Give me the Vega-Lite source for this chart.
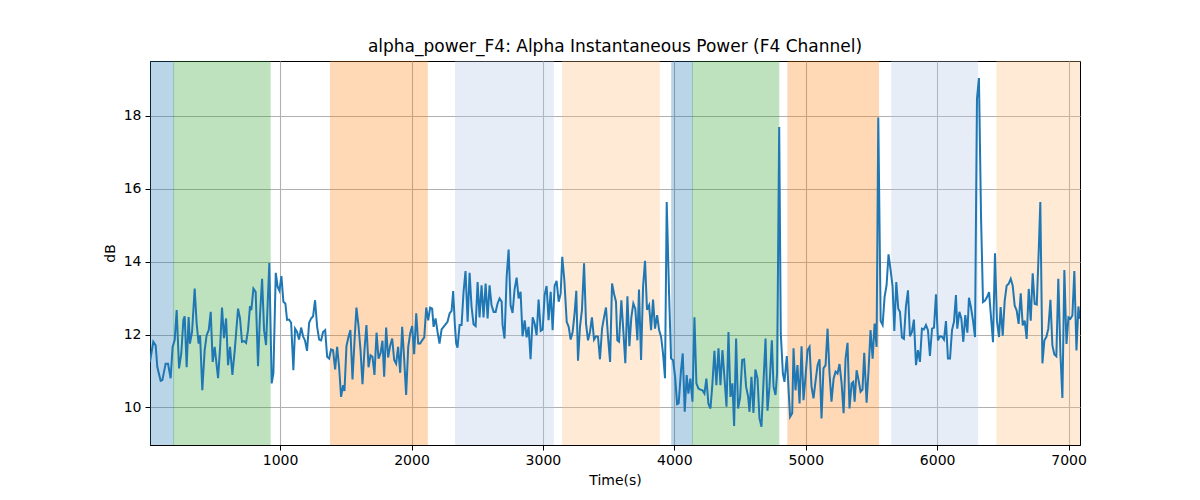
{
  "$schema": "https://vega.github.io/schema/vega-lite/v6.json",
  "width": 930,
  "height": 384,
  "autosize": {"type": "none"},
  "padding": {"left": 150, "top": 61, "right": 120, "bottom": 55},
  "background": "white",
  "title": {"text": "alpha_power_F4: Alpha Instantaneous Power (F4 Channel)", "fontSize": 17, "fontWeight": "normal", "font": "DejaVu Sans", "color": "black", "offset": 5},
  "config": {
    "font": "DejaVu Sans",
    "view": {"stroke": "black", "strokeWidth": 1},
    "axis": {
      "labelFontSize": 14, "labelColor": "black", "labelFont": "DejaVu Sans",
      "titleFontSize": 14, "titleFontWeight": "normal", "titleColor": "black", "titleFont": "DejaVu Sans",
      "tickColor": "black", "tickSize": 5, "domainColor": "black",
      "grid": true, "gridColor": "#b0b0b0", "gridWidth": 1.1
    }
  },
  "datasets": {
    "bands": [
      {"start": 0, "end": 190, "phase": "s1"},
      {"start": 190, "end": 924, "phase": "s2"},
      {"start": 1383, "end": 2120, "phase": "s3"},
      {"start": 2335, "end": 3079, "phase": "s4"},
      {"start": 3150, "end": 3886, "phase": "s5"},
      {"start": 3980, "end": 4138, "phase": "s1"},
      {"start": 4138, "end": 4795, "phase": "s2"},
      {"start": 4864, "end": 5554, "phase": "s3"},
      {"start": 5655, "end": 6308, "phase": "s4"},
      {"start": 6455, "end": 7120, "phase": "s5"}
    ],
    "series": [
      {"t":10,"db":11.25},{"t":35,"db":11.8},{"t":53,"db":11.7},{"t":66,"db":11.1},{"t":91,"db":10.73},{"t":104,"db":10.75},{"t":129,"db":11.2},{"t":147,"db":11.2},{"t":167,"db":10.8},{"t":182,"db":11.66},
      {"t":198,"db":11.85},{"t":213,"db":12.67},{"t":231,"db":11.07},{"t":248,"db":11.48},{"t":264,"db":12.4},{"t":274,"db":12.5},{"t":289,"db":11.1},{"t":304,"db":12.48},{"t":314,"db":11.75},{"t":330,"db":12.07},
      {"t":350,"db":13.26},{"t":365,"db":12.3},{"t":380,"db":11.75},{"t":391,"db":11.98},{"t":408,"db":10.47},{"t":426,"db":11.57},{"t":441,"db":11.98},{"t":457,"db":12.12},{"t":472,"db":12.62},{"t":487,"db":11.25},
      {"t":502,"db":11.66},{"t":528,"db":10.8},{"t":543,"db":11.62},{"t":558,"db":12.74},{"t":573,"db":11.9},{"t":589,"db":12.44},{"t":604,"db":11.16},{"t":619,"db":11.66},{"t":637,"db":10.89},{"t":655,"db":11.57},
      {"t":680,"db":12.71},{"t":695,"db":12.44},{"t":710,"db":11.8},{"t":726,"db":11.82},{"t":741,"db":11.77},{"t":756,"db":12.12},{"t":771,"db":12.78},{"t":781,"db":12.67},{"t":797,"db":13.26},{"t":814,"db":13.17},
      {"t":832,"db":11.13},{"t":847,"db":12.53},{"t":863,"db":13.53},{"t":878,"db":12.12},{"t":893,"db":11.71},{"t":918,"db":13.96},{"t":936,"db":10.66},{"t":949,"db":10.93},{"t":967,"db":13.69},{"t":982,"db":13.3},
      {"t":995,"db":13.2},{"t":1010,"db":13.6},{"t":1025,"db":12.9},{"t":1040,"db":12.85},{"t":1053,"db":12.4},{"t":1068,"db":12.41},{"t":1084,"db":12.32},{"t":1101,"db":11.02},{"t":1114,"db":12.16},{"t":1129,"db":12.07},
      {"t":1144,"db":11.86},{"t":1160,"db":12.19},{"t":1175,"db":11.95},{"t":1190,"db":11.83},{"t":1205,"db":11.55},{"t":1221,"db":12.32},{"t":1236,"db":12.44},{"t":1251,"db":12.5},{"t":1266,"db":12.94},{"t":1282,"db":12.21},
      {"t":1297,"db":11.86},{"t":1312,"db":11.84},{"t":1327,"db":12.07},{"t":1343,"db":12.12},{"t":1358,"db":11.39},{"t":1373,"db":11.34},{"t":1388,"db":11.59},{"t":1403,"db":11.57},{"t":1419,"db":11.04},{"t":1434,"db":11.66},
      {"t":1449,"db":11.11},{"t":1464,"db":10.29},{"t":1480,"db":10.61},{"t":1490,"db":10.45},{"t":1505,"db":11.68},{"t":1520,"db":11.93},{"t":1535,"db":12.12},{"t":1551,"db":10.77},{"t":1566,"db":11.8},{"t":1581,"db":12.74},
      {"t":1596,"db":12.26},{"t":1612,"db":11.57},{"t":1627,"db":10.64},{"t":1642,"db":11.57},{"t":1657,"db":12.26},{"t":1673,"db":11.1},{"t":1688,"db":11.43},{"t":1703,"db":11.39},{"t":1718,"db":10.89},{"t":1734,"db":12.05},
      {"t":1749,"db":11.34},{"t":1764,"db":11.48},{"t":1779,"db":11.83},{"t":1792,"db":10.84},{"t":1807,"db":12.19},{"t":1822,"db":11.37},{"t":1838,"db":11.7},{"t":1853,"db":11.89},{"t":1868,"db":11.3},{"t":1883,"db":11.2},
      {"t":1898,"db":11.66},{"t":1914,"db":10.95},{"t":1929,"db":12.21},{"t":1944,"db":11.34},{"t":1959,"db":10.34},{"t":1975,"db":11.66},{"t":1990,"db":12.03},{"t":2005,"db":12.23},{"t":2020,"db":11.46},{"t":2036,"db":12.58},
      {"t":2051,"db":11.75},{"t":2066,"db":11.75},{"t":2081,"db":11.84},{"t":2097,"db":11.92},{"t":2112,"db":12.74},{"t":2127,"db":12.39},{"t":2142,"db":12.74},{"t":2157,"db":12.71},{"t":2168,"db":12.21},{"t":2183,"db":12.44},
      {"t":2198,"db":12.07},{"t":2213,"db":11.75},{"t":2229,"db":12.14},{"t":2244,"db":12.21},{"t":2259,"db":12.28},{"t":2274,"db":12.35},{"t":2290,"db":12.58},{"t":2305,"db":12.65},{"t":2317,"db":13.19},{"t":2330,"db":12.26},
      {"t":2340,"db":11.75},{"t":2350,"db":11.64},{"t":2366,"db":12.26},{"t":2381,"db":12.26},{"t":2396,"db":13.17},{"t":2411,"db":13.74},{"t":2427,"db":12.35},{"t":2442,"db":13.69},{"t":2457,"db":12.76},{"t":2472,"db":12.28},
      {"t":2488,"db":12.23},{"t":2503,"db":13.44},{"t":2518,"db":12.47},{"t":2533,"db":13.35},{"t":2548,"db":12.47},{"t":2564,"db":13.4},{"t":2579,"db":12.44},{"t":2594,"db":13.35},{"t":2609,"db":12.8},{"t":2625,"db":12.62},
      {"t":2640,"db":12.62},{"t":2655,"db":12.85},{"t":2670,"db":12.99},{"t":2686,"db":12.9},{"t":2693,"db":12.26},{"t":2708,"db":11.89},{"t":2724,"db":13.58},{"t":2739,"db":14.33},{"t":2754,"db":12.8},{"t":2769,"db":12.59},
      {"t":2784,"db":13.23},{"t":2800,"db":13.56},{"t":2815,"db":12.99},{"t":2830,"db":13.17},{"t":2845,"db":11.95},{"t":2861,"db":12.39},{"t":2876,"db":11.92},{"t":2891,"db":12.21},{"t":2906,"db":11.32},{"t":2922,"db":12.47},
      {"t":2937,"db":12.3},{"t":2952,"db":11.98},{"t":2967,"db":12.96},{"t":2983,"db":12.1},{"t":2998,"db":12.14},{"t":3013,"db":13.08},{"t":3028,"db":13.33},{"t":3043,"db":12.39},{"t":3059,"db":13.17},{"t":3074,"db":12.12},
      {"t":3089,"db":13.33},{"t":3104,"db":13.47},{"t":3120,"db":12.9},{"t":3135,"db":13.12},{"t":3147,"db":14.13},{"t":3163,"db":13.49},{"t":3181,"db":12.35},{"t":3196,"db":12.21},{"t":3211,"db":11.86},{"t":3226,"db":12.07},
      {"t":3241,"db":12.58},{"t":3254,"db":13.2},{"t":3267,"db":11.28},{"t":3282,"db":12.21},{"t":3297,"db":12.67},{"t":3313,"db":13.95},{"t":3328,"db":12.3},{"t":3343,"db":11.84},{"t":3358,"db":12.07},{"t":3373,"db":12.47},
      {"t":3389,"db":11.86},{"t":3404,"db":11.95},{"t":3419,"db":11.94},{"t":3434,"db":11.32},{"t":3450,"db":12.16},{"t":3465,"db":12.47},{"t":3480,"db":12.74},{"t":3495,"db":11.95},{"t":3511,"db":11.25},{"t":3526,"db":13.4},
      {"t":3541,"db":13.12},{"t":3556,"db":12.9},{"t":3566,"db":11.84},{"t":3579,"db":11.8},{"t":3597,"db":12.94},{"t":3610,"db":12.21},{"t":3627,"db":11.21},{"t":3643,"db":13.05},{"t":3658,"db":11.68},{"t":3673,"db":12.48},
      {"t":3688,"db":12.85},{"t":3703,"db":12.71},{"t":3719,"db":11.84},{"t":3731,"db":13.23},{"t":3747,"db":11.3},{"t":3762,"db":13.31},{"t":3777,"db":14.02},{"t":3792,"db":12.68},{"t":3808,"db":12.8},{"t":3823,"db":12.12},
      {"t":3838,"db":12.96},{"t":3853,"db":12.16},{"t":3869,"db":12.53},{"t":3884,"db":12.12},{"t":3899,"db":11.94},{"t":3914,"db":11.48},{"t":3929,"db":10.8},{"t":3942,"db":15.63},{"t":3960,"db":13.12},{"t":3975,"db":11.34},
      {"t":3990,"db":11.3},{"t":4006,"db":10.84},{"t":4021,"db":10.09},{"t":4033,"db":10.11},{"t":4051,"db":11.02},{"t":4064,"db":11.48},{"t":4079,"db":9.88},{"t":4094,"db":10.89},{"t":4107,"db":10.38},{"t":4122,"db":10.79},
      {"t":4138,"db":10.16},{"t":4153,"db":12.47},{"t":4168,"db":10.66},{"t":4183,"db":10.52},{"t":4198,"db":10.49},{"t":4214,"db":10.47},{"t":4229,"db":10.38},{"t":4244,"db":10.79},{"t":4259,"db":10.11},{"t":4275,"db":9.97},
      {"t":4290,"db":10.66},{"t":4305,"db":11.55},{"t":4320,"db":10.61},{"t":4336,"db":11.62},{"t":4351,"db":10.61},{"t":4366,"db":11.57},{"t":4381,"db":10.84},{"t":4397,"db":10.02},{"t":4412,"db":12.07},{"t":4427,"db":10.29},
      {"t":4442,"db":10.66},{"t":4455,"db":9.49},{"t":4470,"db":11.89},{"t":4485,"db":9.97},{"t":4501,"db":10.29},{"t":4516,"db":11.3},{"t":4531,"db":11.32},{"t":4546,"db":10.57},{"t":4562,"db":10.29},{"t":4572,"db":9.88},
      {"t":4587,"db":10.84},{"t":4602,"db":9.85},{"t":4617,"db":11.04},{"t":4633,"db":10.79},{"t":4648,"db":9.7},{"t":4663,"db":9.47},{"t":4678,"db":10.66},{"t":4694,"db":11.89},{"t":4709,"db":9.91},{"t":4724,"db":10.57},
      {"t":4742,"db":11.84},{"t":4755,"db":10.57},{"t":4770,"db":10.34},{"t":4782,"db":10.93},{"t":4798,"db":17.69},{"t":4810,"db":12.03},{"t":4826,"db":10.93},{"t":4838,"db":10.7},{"t":4856,"db":11.41},{"t":4871,"db":10.38},
      {"t":4881,"db":9.74},{"t":4897,"db":9.84},{"t":4907,"db":11.62},{"t":4922,"db":10.47},{"t":4937,"db":11.16},{"t":4953,"db":10.11},{"t":4968,"db":11.68},{"t":4983,"db":10.2},{"t":4998,"db":10.84},{"t":5014,"db":11.57},
      {"t":5029,"db":11.66},{"t":5044,"db":10.57},{"t":5059,"db":10.25},{"t":5074,"db":10.7},{"t":5090,"db":11.16},{"t":5105,"db":11.32},{"t":5120,"db":9.7},{"t":5135,"db":11.07},{"t":5151,"db":11.16},{"t":5166,"db":12.16},
      {"t":5181,"db":10.93},{"t":5196,"db":10.16},{"t":5212,"db":10.79},{"t":5227,"db":10.98},{"t":5242,"db":10.93},{"t":5257,"db":11.19},{"t":5273,"db":10.66},{"t":5288,"db":9.84},{"t":5303,"db":11.34},{"t":5318,"db":11.77},
      {"t":5333,"db":9.97},{"t":5349,"db":10.66},{"t":5361,"db":10.7},{"t":5372,"db":10.16},{"t":5387,"db":11.02},{"t":5402,"db":10.75},{"t":5417,"db":10.43},{"t":5432,"db":10.49},{"t":5445,"db":11.5},{"t":5463,"db":10.13},
      {"t":5478,"db":11.02},{"t":5493,"db":12.12},{"t":5509,"db":11.34},{"t":5524,"db":12.3},{"t":5539,"db":11.66},{"t":5552,"db":17.95},{"t":5570,"db":12.37},{"t":5585,"db":12.26},{"t":5600,"db":13.03},{"t":5615,"db":13.35},
      {"t":5630,"db":14.2},{"t":5646,"db":13.76},{"t":5661,"db":13.31},{"t":5674,"db":12.1},{"t":5689,"db":13.44},{"t":5704,"db":12.71},{"t":5717,"db":12.62},{"t":5732,"db":11.92},{"t":5747,"db":11.88},{"t":5762,"db":12.76},
      {"t":5778,"db":13.21},{"t":5793,"db":11.95},{"t":5808,"db":12.07},{"t":5823,"db":12.41},{"t":5839,"db":11.16},{"t":5854,"db":11.57},{"t":5869,"db":11.25},{"t":5884,"db":12.16},{"t":5899,"db":12.14},{"t":5915,"db":12.26},
      {"t":5930,"db":12.12},{"t":5945,"db":11.41},{"t":5961,"db":12.16},{"t":5976,"db":12.19},{"t":5991,"db":13.1},{"t":6006,"db":11.84},{"t":6021,"db":11.95},{"t":6037,"db":11.94},{"t":6052,"db":11.86},{"t":6067,"db":12.37},
      {"t":6082,"db":11.34},{"t":6098,"db":11.34},{"t":6113,"db":12.12},{"t":6128,"db":12.35},{"t":6143,"db":13.08},{"t":6153,"db":12.16},{"t":6169,"db":12.62},{"t":6184,"db":12.44},{"t":6199,"db":11.8},{"t":6214,"db":12.53},
      {"t":6230,"db":12.05},{"t":6242,"db":13.01},{"t":6257,"db":12.75},{"t":6273,"db":12.38},{"t":6288,"db":11.93},{"t":6303,"db":18.46},{"t":6318,"db":19.03},{"t":6334,"db":15.21},{"t":6349,"db":12.89},{"t":6364,"db":12.93},
      {"t":6379,"db":13.02},{"t":6395,"db":13.16},{"t":6410,"db":12.47},{"t":6425,"db":11.79},{"t":6440,"db":14.23},{"t":6455,"db":12.38},{"t":6471,"db":11.93},{"t":6483,"db":12.75},{"t":6499,"db":11.97},{"t":6514,"db":12.93},
      {"t":6529,"db":13.34},{"t":6544,"db":13.39},{"t":6560,"db":13.53},{"t":6575,"db":13.34},{"t":6590,"db":12.79},{"t":6605,"db":12.66},{"t":6620,"db":12.29},{"t":6636,"db":13.13},{"t":6651,"db":12.25},{"t":6666,"db":12.38},
      {"t":6681,"db":11.88},{"t":6697,"db":13.25},{"t":6712,"db":12.38},{"t":6727,"db":13.68},{"t":6742,"db":12.84},{"t":6758,"db":12.82},{"t":6773,"db":14.3},{"t":6785,"db":15.63},{"t":6801,"db":11.21},{"t":6816,"db":11.84},
      {"t":6831,"db":11.93},{"t":6846,"db":12.16},{"t":6862,"db":12.95},{"t":6877,"db":11.7},{"t":6892,"db":11.45},{"t":6907,"db":11.4},{"t":6922,"db":13.53},{"t":6938,"db":11.47},{"t":6953,"db":10.26},{"t":6968,"db":13.77},
      {"t":6984,"db":11.74},{"t":6999,"db":12.47},{"t":7014,"db":12.43},{"t":7029,"db":12.52},{"t":7044,"db":13.74},{"t":7060,"db":11.56},{"t":7075,"db":12.77},{"t":7085,"db":12.43}
    ]
  },
  "layer": [
    {
      "data": {"name": "bands"},
      "mark": {"type": "rect", "opacity": 0.3, "strokeWidth": 1, "clip": true},
      "encoding": {
        "x": {"field": "start", "type": "quantitative", "scale": {"domain": [10, 7087], "nice": false, "zero": false},
              "axis": {"title": "Time(s)", "values": [1000, 2000, 3000, 4000, 5000, 6000, 7000], "labelPadding": 3, "titlePadding": 6, "format": "d"}},
        "x2": {"field": "end"},
        "y": {"value": 0},
        "y2": {"value": 384},
        "color": {"field": "phase", "type": "nominal", "legend": null,
                  "scale": {"domain": ["s1", "s2", "s3", "s4", "s5"], "range": ["#1f77b4", "#2ca02c", "#ff7f0e", "#aec7e8", "#ffbb78"]}},
        "stroke": {"field": "phase", "type": "nominal", "legend": null,
                  "scale": {"domain": ["s1", "s2", "s3", "s4", "s5"], "range": ["#1f77b4", "#2ca02c", "#ff7f0e", "#aec7e8", "#ffbb78"]}}
      }
    },
    {
      "data": {"name": "series"},
      "mark": {"type": "line", "color": "#1f77b4", "strokeWidth": 2, "clip": true},
      "encoding": {
        "x": {"field": "t", "type": "quantitative"},
        "y": {"field": "db", "type": "quantitative", "scale": {"domain": [8.97, 19.5], "nice": false, "zero": false},
              "axis": {"title": "dB", "values": [10, 12, 14, 16, 18], "labelPadding": 4, "titlePadding": 6}}
      }
    }
  ]
}
